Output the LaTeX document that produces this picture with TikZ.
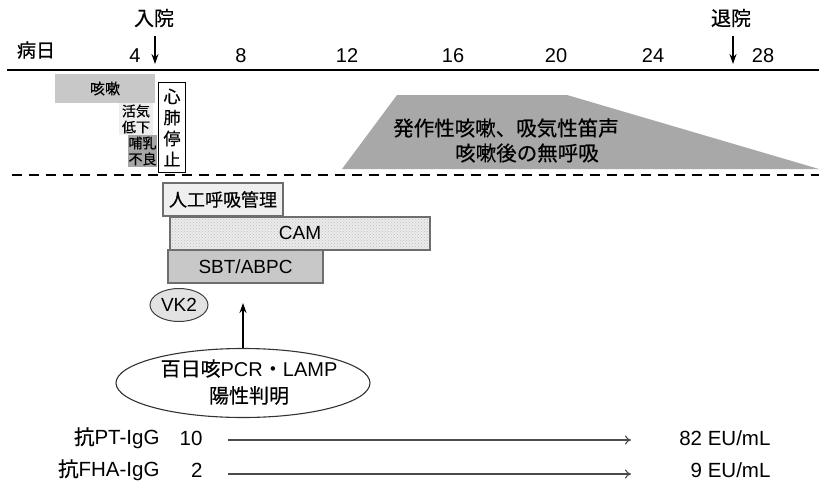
\documentclass[tikz,border=0pt]{standalone}
\usepackage{fontspec}
\setmainfont{Noto Sans CJK JP}[FakeBold=0.5]
\newfontfamily\lat{Liberation Sans}
\usetikzlibrary{arrows.meta,patterns,shapes.geometric}
\definecolor{cough}{HTML}{C8C8C8}
\definecolor{lethal}{HTML}{EEEEEE}
\definecolor{feed}{HTML}{A6A6A6}
\definecolor{trap}{HTML}{A8A8A8}
\definecolor{vent}{HTML}{EFEFEF}
\definecolor{camfill}{HTML}{EBEBEB}
\definecolor{sbt}{HTML}{C8C8C8}
\definecolor{vk}{HTML}{E2E2E2}
\definecolor{edge}{HTML}{6E6E6E}
\begin{document}
\begin{tikzpicture}[x=1pt,y=-1pt,
  fA/.style={font=\fontsize{20}{23}\selectfont},
  fnum/.style={font=\fontsize{20}{23}\selectfont\lat},
  fsmall/.style={font=\fontsize{15}{17}\selectfont},
  fbox/.style={font=\fontsize{18}{21}\selectfont},
  flat/.style={font=\fontsize{19}{22}\selectfont\lat},
  ftit/.style={font=\fontsize{20.5}{23}\selectfont,anchor=east},
  blk/.style={draw=none,inner sep=0pt,outer sep=0pt,anchor=north west},
  bar/.style={draw=edge,line width=1.2pt,inner sep=0pt,outer sep=0pt,anchor=north west},
  downarrow/.style={-{Stealth[length=10pt,width=7pt]},line width=1.7pt},
  uparrow/.style={-{Stealth[length=10pt,width=7pt]},line width=1.7pt},
  titer/.style={-{To[length=6pt,width=9pt]},line width=1.1pt,draw=black!70}
]
\useasboundingbox (0,0) rectangle (819,482);

% axis
\coordinate (axL) at (7,70);
\coordinate (axR) at (819,70);
\draw[line width=2.7pt] (axL) -- (axR);
\node[font=\fontsize{19}{22}\selectfont] (day) at (36,50) {病日};
\foreach \x/\l in {135/4,241/8,347/12,453/16,556/20,653/24,763/28}
  \node[fnum] (t\l) at (\x,56) {\l};

\node[fA] (adm) at (154,18) {入院};
\coordinate (admT) at (155,64);
\draw[downarrow] (adm.south -| admT) ++(0,5) -- (admT);
\node[fA] (dis) at (731,18) {退院};
\coordinate (disT) at (733,64);
\draw[downarrow] (dis.south -| disT) ++(0,5) -- (disT);

% symptoms before
\node[blk,fill=cough,minimum width=100pt,minimum height=29pt,fsmall] (cough) at (55,74) {咳嗽};
\node[blk,fill=lethal,minimum width=34pt,minimum height=32pt,align=center,font=\fontsize{14}{16}\selectfont] (leth) at (119,103) {活気\\低下};
\node[blk,fill=feed,minimum width=29pt,minimum height=32pt,align=center,font=\fontsize{14}{16}\selectfont] (feedn) at (128,135) {哺乳\\不良};
\node[draw=black,line width=1.1pt,fill=white,inner sep=0pt,anchor=north west,minimum width=27pt,minimum height=90pt,align=center,font=\fontsize{17}{21}\selectfont] (cpa) at (158,82) {心\\肺\\停\\止};

% trapezoid
\coordinate (tA) at (342,169);
\coordinate (tB) at (397,95);
\coordinate (tC) at (567,95);
\coordinate (tD) at (819,169);
\fill[trap] (tA) -- (tB) -- (tC) -- (tD) -- cycle;
\node[font=\fontsize{20.5}{25}\selectfont,anchor=center] (sym1) at (506,128) {発作性咳嗽、吸気性笛声};
\node[font=\fontsize{20.5}{25}\selectfont,anchor=center] (sym2) at (527,153) {咳嗽後の無呼吸};

% dashed separator
\coordinate (dL) at (12,175);
\coordinate (dR) at (819,175);
\draw[line width=2.6pt,dash pattern=on 10pt off 7pt] (dL) -- (dR);

% treatments
\node[bar,fill=camfill,minimum width=260pt,minimum height=33pt] (cam) at (170,217) {};
\fill[pattern=crosshatch dots,pattern color=black!25] (cam.north west) rectangle (cam.south east);
\draw[draw=edge,line width=1.2pt] (cam.north west) rectangle (cam.south east);
\node[flat] (camt) at (300,233) {CAM};
\node[bar,fill=vent,minimum width=120pt,minimum height=33pt,fbox] (vent) at (163,183) {人工呼吸管理};
\node[bar,fill=sbt,minimum width=155pt,minimum height=33pt,flat] (sbt) at (168,250) {SBT/ABPC};
\node[ellipse,draw=black!75,line width=1pt,fill=vk,minimum width=58pt,minimum height=33pt,inner sep=0pt,flat] (vk) at (179,305) {VK2};

% PCR ellipse
\node[ellipse,draw=black!80,line width=1.1pt,fill=white,minimum width=254pt,minimum height=69pt,inner sep=0pt] (pcr) at (243,383) {};
\node[font=\fontsize{20}{27}\selectfont,align=center] (pcrt) at (249,382) {百日咳{\lat PCR}・{\lat LAMP}\\陽性判明};
\coordinate (arrT) at (243,303);
\draw[uparrow] (pcr.north) -- (arrT);

% titers
\node[ftit] (pt) at (163,438) {抗{\lat PT-IgG}};
\node[ftit] (pt0) at (206,438) {\lat 10};
\node[ftit] (pt1) at (774,438) {\lat 82 EU/mL};
\coordinate (ptA) at (228,440);
\coordinate (ptB) at (631,440);
\draw[titer] (ptA) -- (ptB);

\node[ftit] (fha) at (163,470) {抗{\lat FHA-IgG}};
\node[ftit] (fha0) at (206,470) {\lat 2};
\node[ftit] (fha1) at (774,470) {\lat 9 EU/mL};
\coordinate (fhaA) at (228,474);
\coordinate (fhaB) at (631,474);
\draw[titer] (fhaA) -- (fhaB);
\end{tikzpicture}
\end{document}
